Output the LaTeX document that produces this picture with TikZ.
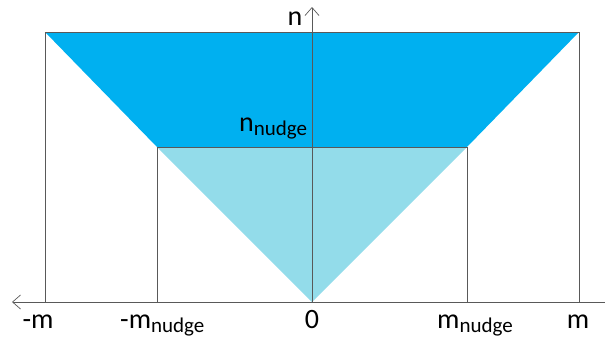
\documentclass[tikz,border=0pt]{standalone}
\usepackage{fontspec}
\setmainfont{Carlito}
\usepackage{tikz}
\usetikzlibrary{arrows.meta}
\definecolor{nudgeDark}{HTML}{00B0F0}
\definecolor{nudgeLight}{HTML}{93DCEA}
\tikzset{
  guide/.style={draw=black!65,line width=0.7pt},
  axis/.style={guide,-{Straight Barb[length=8pt,width=14pt]}},
  lbl/.style={inner sep=0pt,anchor=base,font=\fontsize{28}{30}\selectfont},
}
\newcommand{\nudgesub}[1]{#1\raisebox{-4.5pt}{\fontsize{21}{22}\selectfont nudge}}

\begin{document}
\begin{tikzpicture}[x=1pt,y=1pt]
\useasboundingbox (-312,-39) rectangle (303,302);
% corner points
\coordinate (O) at (0,0);
\coordinate (TL) at (-267,270);
\coordinate (TR) at (267,270);
\coordinate (NL) at (-155,155);
\coordinate (NR) at (155,155);
\coordinate (BL) at (-267,0);
\coordinate (BR) at (267,0);
\coordinate (bl) at (-155,0);
\coordinate (br) at (155,0);
\coordinate (xl) at (-300,0);
\coordinate (xr) at (293,0);
\coordinate (yt) at (0,295);
% regions
\fill[nudgeDark] (TL) -- (TR) -- (NR) -- (NL) -- cycle;
\fill[nudgeLight] (NL) -- (NR) -- (O) -- cycle;
% guide lines
\draw[guide] (TL) -- (TR);
\draw[guide] (NL) -- (NR);
\draw[guide] (TL) -- (BL);
\draw[guide] (TR) -- (BR);
\draw[guide] (NL) -- (bl);
\draw[guide] (NR) -- (br);
% axes
\draw[axis] (O) -- (yt);
\draw[axis,{Straight Barb[length=8pt,width=14pt]}-] (xl) -- (xr);
% labels
\node[lbl] (mneg) at (-274,-26) {-m};
\node[lbl,anchor=base west] (mnudgeneg) at (-192,-26) {\nudgesub{-m}};
\node[lbl] (zero) at (0,-26) {0};
\node[lbl,anchor=base west] (mnudge) at (125,-26) {\nudgesub{m}};
\node[lbl] (mpos) at (266,-26) {m};
\node[lbl,anchor=base west] (nnudge) at (-73,171) {\nudgesub{n}};
\node[lbl] (nlbl) at (-17,277) {n};
\end{tikzpicture}
\end{document}
